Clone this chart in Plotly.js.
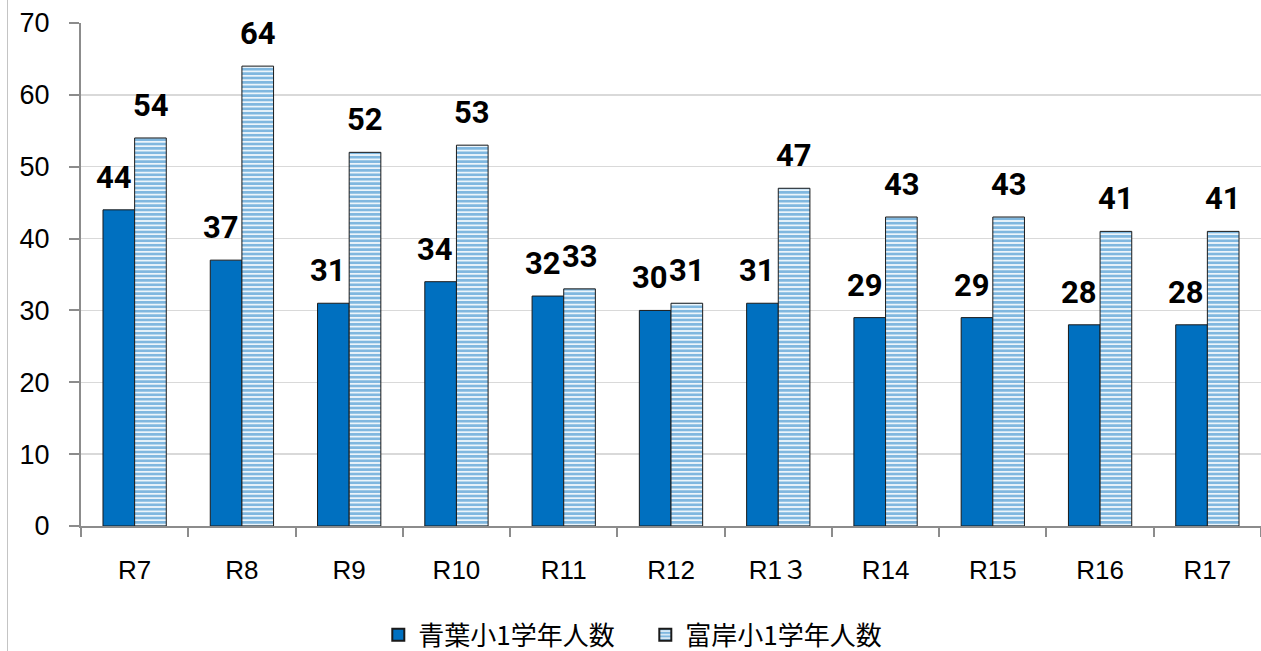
<!DOCTYPE html>
<html>
<head>
<meta charset="utf-8">
<script src="https://cdn.plot.ly/plotly-3.0.1.min.js"></script>
<style>
html,body{margin:0;padding:0;background:#fff;}
#wrap{position:relative;width:1261px;height:651px;overflow:hidden;}
#edge{position:absolute;left:7px;top:0;width:1px;height:651px;background:#c4c4c4;z-index:5;}
#chart{position:absolute;left:0;top:0;width:1261px;height:651px;}
</style>
</head>
<body>
<div id="wrap"><div id="edge"></div><div id="chart"></div></div>
<script>
const categories = ['R7','R8','R9','R10','R11','R12','R1３','R14','R15','R16','R17'];
const aobaValues = [44,37,31,34,32,30,31,29,29,28,28];
const tomigishiValues = [54,64,52,53,33,31,47,43,43,41,41];
const seriesNames = ['青葉小1学年人数','富岸小1学年人数'];

const blue = '#0070c0';
const lineCol = '#1a1a1a';

const traces = [
  {
    type:'bar', name:seriesNames[0], x:categories, y:aobaValues,
    marker:{color:blue, line:{color:lineCol,width:1}},
    hoverinfo:'y'
  },
  {
    type:'bar', name:seriesNames[1], x:categories, y:tomigishiValues,
    marker:{color:'#ffffff', line:{color:lineCol,width:1},
      pattern:{shape:'-', fgcolor:blue, bgcolor:'#ffffff', size:4.4, solidity:0.66, fillmode:'overlay'}},
    hoverinfo:'y'
  }
];

const labelFont = {family:'Roboto, "Liberation Sans", sans-serif', size:31, color:'#000', weight:700};
const annotations = [];
categories.forEach((c,i)=>{
  annotations.push({x:c, y:aobaValues[i], xref:'x', yref:'y', text:String(aobaValues[i]), showarrow:false,
    xanchor:'center', yanchor:'bottom', xshift:-21, yshift:12, font:labelFont});
  annotations.push({x:c, y:tomigishiValues[i], xref:'x', yref:'y', text:String(tomigishiValues[i]), showarrow:false,
    xanchor:'center', yanchor:'bottom', xshift:16, yshift:12, font:labelFont});
});

const layout = {
  width:1261, height:651,
  margin:{l:81, r:0, t:23, b:125, autoexpand:false},
  paper_bgcolor:'#ffffff', plot_bgcolor:'#ffffff',
  barmode:'group', bargap:0.41, bargroupgap:0,
  font:{family:'"Liberation Sans", "Noto Sans CJK JP", sans-serif', color:'#000', size:26},
  xaxis:{
    type:'category', showgrid:false, showline:true, linecolor:'#8c8c8c', linewidth:2,
    ticks:'outside', ticklen:9, tickcolor:'#8c8c8c', tickwidth:2, tickson:'boundaries',
    ticklabelstandoff:20, automargin:false,
    tickfont:{family:'"Liberation Sans", "Noto Sans CJK JP", sans-serif', size:26, color:'#000'},
    fixedrange:true
  },
  yaxis:{
    range:[0,70], dtick:10, tick0:0, showgrid:true, gridcolor:'#d9d9d9', gridwidth:1.5,
    showline:true, linecolor:'#8c8c8c', linewidth:2, zeroline:false,
    ticks:'outside', ticklen:10, tickcolor:'#8c8c8c', tickwidth:2,
    ticklabelstandoff:14, automargin:false,
    tickfont:{family:'"Liberation Sans", "Noto Sans CJK JP", sans-serif', size:27, color:'#000'},
    fixedrange:true
  },
  legend:{
    orientation:'h', xref:'container', yref:'container',
    x:0.3, xanchor:'left', y:0.025, yanchor:'middle',
    entrywidth:222, entrywidthmode:'pixels',
    font:{family:'"Noto Sans CJK JP", sans-serif', size:26, color:'#000'},
    itemsizing:'constant', traceorder:'normal', bgcolor:'rgba(0,0,0,0)'
  },
  annotations:annotations,
  showlegend:true
};

Plotly.newPlot('chart', traces, layout, {displayModeBar:false, staticPlot:true});
</script>
</body>
</html>
